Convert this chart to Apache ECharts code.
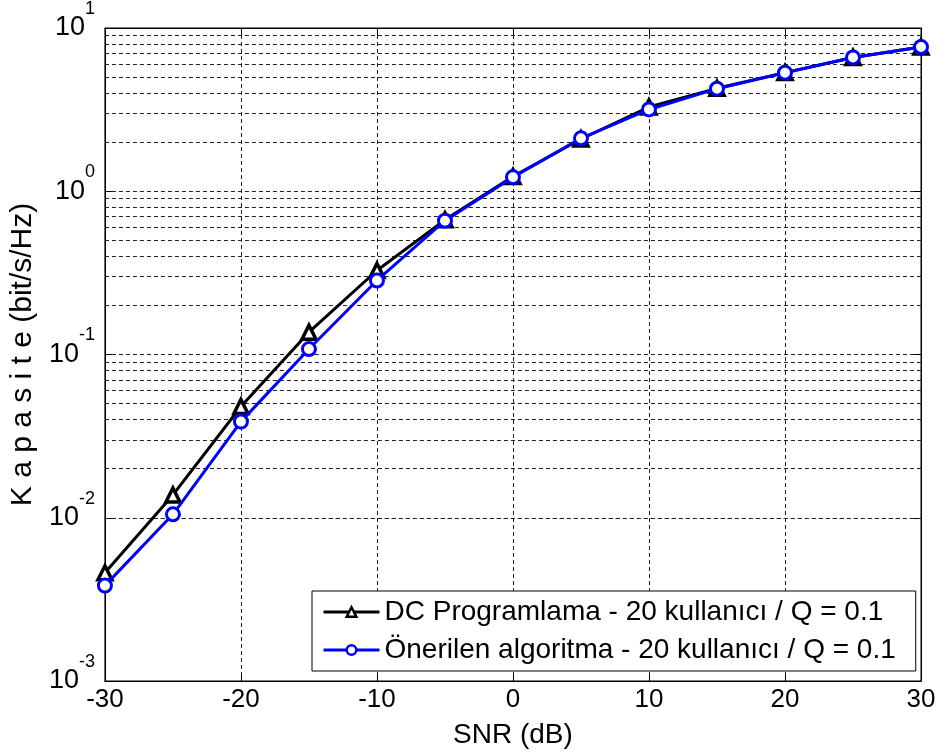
<!DOCTYPE html>
<html>
<head>
<meta charset="utf-8">
<script src="https://cdn.jsdelivr.net/npm/echarts@6/dist/echarts.min.js"></script>
<style>
  html, body { margin: 0; padding: 0; background: #fff; }
  #chart { width: 941px; height: 755px; }
</style>
</head>
<body>
<div id="chart"></div>
<script>
// SNR values in dB
const snr = [-30, -25, -20, -15, -10, -5, 0, 5, 10, 15, 20, 25, 30];

// capacity (bit/s/Hz)
const dcCapacity = [0.0046, 0.0138, 0.048, 0.137, 0.327, 0.668, 1.23, 2.09, 3.28, 4.27, 5.33, 6.6, 7.65];
const proposedCapacity = [0.00384, 0.0105, 0.0388, 0.108, 0.284, 0.66, 1.22, 2.11, 3.17, 4.25, 5.32, 6.6, 7.65];

const dcName = 'DC Programlama - 20 kullanıcı / Q = 0.1';
const proposedName = 'Önerilen algoritma - 20 kullanıcı / Q = 0.1';

// minor log grid lines (2..9 in every decade)
const decades = [0.001, 0.01, 0.1, 1];
const minorMults = [2, 3, 4, 5, 6, 7, 8, 9];

const font = 'Liberation Sans, Arial, sans-serif';

const minorLines = [];
decades.forEach(d => minorMults.forEach(m => minorLines.push({ yAxis: d * m })));

const chart = echarts.init(document.getElementById('chart'));

const gridDash = { type: [4, 3], color: '#222', width: 1 };

let options = {
  animation: false,
  backgroundColor: '#fff',
  textStyle: { fontFamily: font },
  grid: { left: 103, right: 20, top: 24, bottom: 74, show: true, borderColor: '#000', borderWidth: 1, backgroundColor: '#fff' },
  legend: {
    data: [dcName, proposedName],
    orient: 'vertical',
    left: 312,
    top: 591,
    padding: [7, 20, 7, 10],
    itemWidth: 56,
    itemHeight: 12,
    itemGap: 10,
    backgroundColor: '#fff',
    borderColor: '#000',
    borderWidth: 1,
    borderRadius: 0,
    itemStyle: { borderWidth: 2.5 },
    lineStyle: { width: 3 },
    textStyle: { fontSize: 28, color: '#000', fontFamily: font }
  },
  xAxis: [
    {
      type: 'value',
      min: -30,
      max: 30,
      interval: 10,
      name: 'SNR (dB)',
      nameLocation: 'middle',
      nameGap: 40,
      nameTextStyle: { fontSize: 28, color: '#000', fontFamily: font },
      axisLine: { onZero: false, lineStyle: { color: '#000', width: 1 } },
      axisTick: { inside: true, length: 7, lineStyle: { color: '#000' } },
      axisLabel: { fontSize: 26, color: '#000', margin: 6, fontFamily: font },
      splitLine: { show: true, lineStyle: gridDash }
    },
    {
      type: 'value', position: 'top', min: -30, max: 30, interval: 10,
      axisLine: { onZero: false, lineStyle: { color: '#000' } },
      axisTick: { inside: true, length: 7, lineStyle: { color: '#000' } },
      axisLabel: { show: false },
      splitLine: { show: false }
    }
  ],
  yAxis: [
    {
      type: 'log',
      logBase: 10,
      min: 0.001,
      max: 10,
      name: 'K a p a s i t e (bit/s/Hz)',
      nameLocation: 'middle',
      nameGap: 58,
      nameTextStyle: { fontSize: 30, color: '#000', fontFamily: font },
      axisLine: { onZero: false, lineStyle: { color: '#000', width: 1 } },
      axisTick: { inside: true, length: 7, lineStyle: { color: '#000' } },
      axisLabel: {
        margin: 10,
        formatter: function (v) {
          const e = Math.round(Math.log10(v));
          return '{b|10}{s|' + e + '}';
        },
        rich: {
          b: { fontSize: 27, lineHeight: 56, color: '#000', fontFamily: font, verticalAlign: 'middle' },
          s: { fontSize: 18, lineHeight: 18, color: '#000', fontFamily: font, verticalAlign: 'top' }
        }
      },
      splitLine: { show: true, lineStyle: gridDash }
    },
    {
      type: 'log', logBase: 10, min: 0.001, max: 10, position: 'right',
      axisLine: { onZero: false, lineStyle: { color: '#000' } },
      axisTick: { inside: true, length: 7, lineStyle: { color: '#000' } },
      axisLabel: { show: false },
      splitLine: { show: false }
    }
  ],
  series: [
    {
      name: 'minor grid',
      type: 'line',
      data: [],
      z: 1,
      silent: true,
      markLine: {
        silent: true,
        z: 1,
        symbol: ['none', 'none'],
        label: { show: false },
        lineStyle: gridDash,
        emphasis: { disabled: true },
        data: minorLines
      }
    },
    {
      name: dcName,
      type: 'line',
      data: snr.map((x, i) => [x, dcCapacity[i]]),
      symbol: 'triangle',
      symbolSize: 14,
      lineStyle: { color: '#000', width: 3 },
      itemStyle: { color: '#fff', borderColor: '#000', borderWidth: 3.5 },
      z: 3
    },
    {
      name: proposedName,
      type: 'line',
      data: snr.map((x, i) => [x, proposedCapacity[i]]),
      symbol: 'circle',
      symbolSize: 13,
      lineStyle: { color: '#0000ff', width: 3 },
      itemStyle: { color: '#fff', borderColor: '#0000ff', borderWidth: 3 },
      z: 4
    }
  ]
};

chart.setOption(options);
</script>
</body>
</html>
